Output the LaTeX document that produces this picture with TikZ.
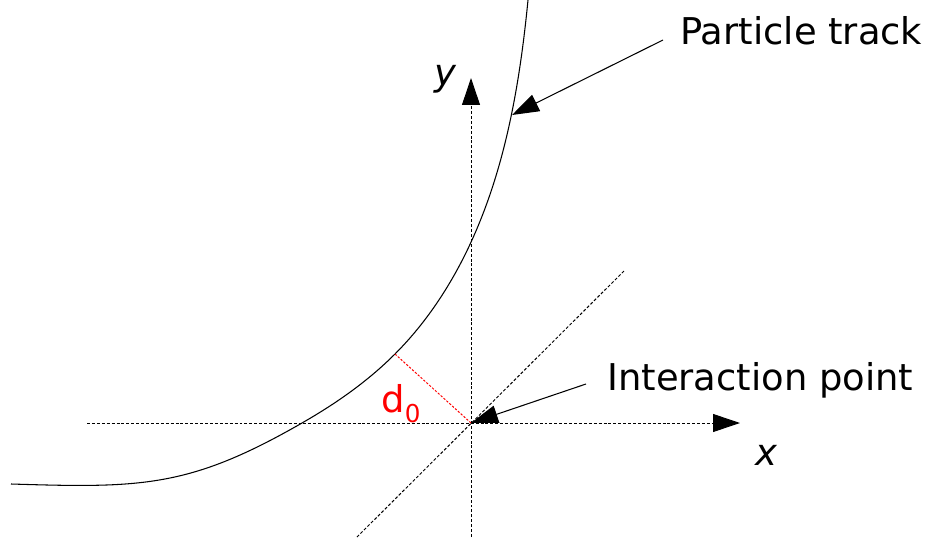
\documentclass[tikz,border=0pt]{standalone}
\usepackage{fontspec}
\setmainfont{DejaVu Sans}
\usetikzlibrary{arrows.meta}
\tikzset{
  axis/.style={line width=0.55pt, dash pattern=on 1.7pt off 1.1pt},
  tip/.style={-{Triangle[length=0.54cm,width=0.36cm]}},
  note/.style={line width=0.6pt, tip},
  lbl/.style={inner sep=0pt, font=\fontsize{21}{25}\selectfont}
}
\begin{document}
\begin{tikzpicture}[x=0.02cm,y=-0.02cm]
    \useasboundingbox (0,0) rectangle (934,541);
    % axes through the interaction point
    \coordinate (ip) at (471,423);
    \draw[axis,tip] (87,423) -- (740,423);
    \draw[axis,tip] (471,537) -- (471,78);
    \draw[axis] (357,537) -- (625,270);
    \node[lbl,anchor=base] (ylab) at (445,85) {\itshape y};
    \node[lbl,anchor=base] (xlab) at (766,465) {\itshape x};
    % track
    \coordinate (pca) at (395,354);
    \draw[line width=0.6pt] (11,484) .. controls (141,488) and (189,488) .. (302,423)
        .. controls (336,403.5) and (367.4,381.6) .. (pca)
        .. controls (427.5,321.5) and (453,282) .. (472,240)
        .. controls (506,165) and (520,82) .. (528,0);
    \draw[red,line width=0.55pt,dash pattern=on 1.3pt off 0.9pt] (ip) -- (pca);
    \node[lbl,anchor=base west,text=red] (dlab) at (381,412) {d\raisebox{-6.2pt}{\fontsize{14}{14}\selectfont 0}};
    % labels
    \node[lbl,anchor=base west] (ptrack) at (680,45) {Particle track};
    \node[lbl,anchor=base west] (ipoint) at (607,390) {Interaction point};
    \coordinate (pt0) at (663,40);
    \coordinate (ip0) at (586,384);
    \coordinate (tk) at (512,115);
    \draw[note] (pt0) -- (tk);
    \draw[note] (ip0) -- (ip);
\end{tikzpicture}
\end{document}
